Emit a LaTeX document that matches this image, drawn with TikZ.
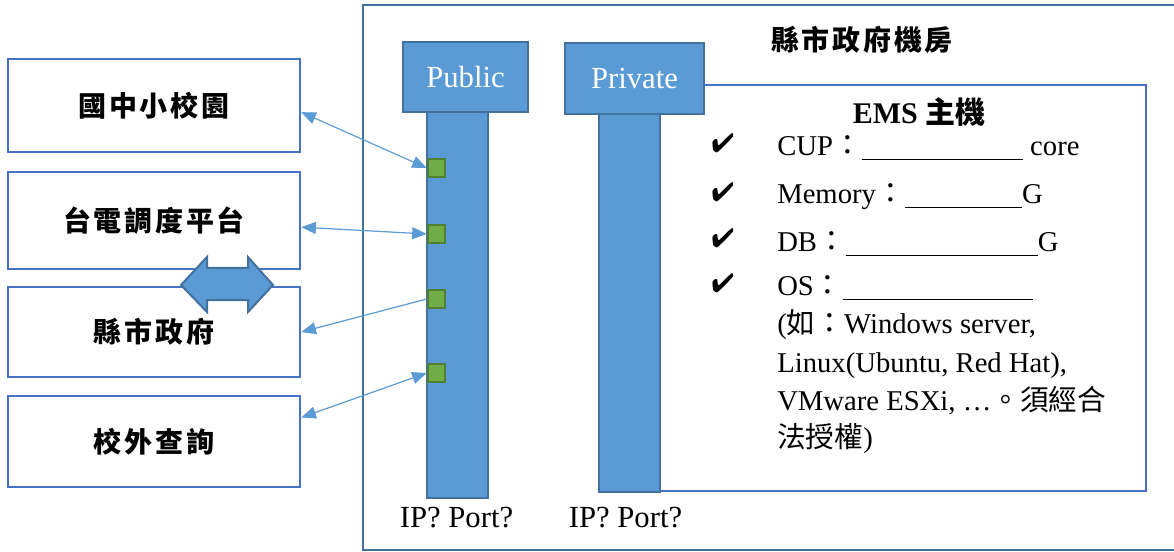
\documentclass[tikz,border=0pt]{standalone}
\usepackage{fontspec}
\usepackage{pifont}
\setmainfont{Liberation Serif}
\newfontfamily\cjk{Noto Sans CJK TC}
\usetikzlibrary{arrows.meta}
\definecolor{boxblue}{HTML}{4472C4}
\definecolor{fillblue}{HTML}{5B9BD5}
\definecolor{edgeblue}{HTML}{41719C}
\definecolor{portgreen}{HTML}{70AD47}
\definecolor{portedge}{HTML}{507E32}
\tikzset{
    site/.style={rectangle, draw=boxblue, line width=1.9pt, minimum width=219pt,
    	font=\cjk\bfseries\fontsize{21}{24}\selectfont\addfontfeature{LetterSpace=10}}
}
\tikzset{
    head/.style={rectangle, fill=fillblue, draw=edgeblue, line width=1.9pt,
    	text=white, font=\fontsize{23}{26}\selectfont},
    bar/.style={rectangle, fill=fillblue, draw=edgeblue, line width=1.9pt,
    	minimum width=45.75pt},
    port/.style={rectangle, fill=portgreen, draw=portedge, line width=1.5pt,
    	minimum size=13pt, inner sep=0pt}
}
\tikzset{
    link/.style={draw=fillblue, line width=0.9pt,
    	arrows={-Triangle[length=11pt, width=9pt]}},
    both/.style={arrows={Triangle[length=11pt, width=9pt]-Triangle[length=11pt, width=9pt]}},
    spec/.style={anchor=base west, inner sep=0pt, font=\fontsize{21.5}{24}\selectfont},
    tick/.style={inner sep=0pt, font=\fontsize{20}{22}\selectfont}
}

\begin{document}
\begin{tikzpicture}[x=0.75pt, y=-0.75pt]
	\clip (0,0) rectangle (1174,552);
	\fill[white] (0,0) rectangle (1174,552);

	% machine room
	\draw[edgeblue, line width=1.5pt] (363,5) rectangle (1190,550);
	\node (room) [font=\cjk\bfseries\fontsize{21}{24}\selectfont\addfontfeature{LetterSpace=10}]
		at (862,40) {縣市政府機房};

	% sites
	\node (1) [site, minimum height=69.75pt] at (154,105.5) {國中小校園};
	\node (2) [site, minimum height=72.75pt] at (154,220.5) {台電調度平台};
	\node (3) [site, minimum height=67.5pt] at (154,332) {縣市政府};
	\node (4) [site, minimum height=68.25pt] at (154,441.5) {校外查詢};

	\filldraw[fill=fillblue, draw=edgeblue, line width=1.5pt]
		(181,285) -- (207,257) -- (207,268) -- (248,268) -- (248,257)
		-- (273,285) -- (248,312) -- (248,300) -- (207,300) -- (207,312) -- cycle;

	% EMS host
	\draw[boxblue, line width=1.9pt] (640,85) rectangle (1146,491);
	\node (ems) at (919,112) {\fontsize{22.5}{24}\selectfont\bfseries EMS {\cjk 主機}};

	% networks
	\node (pub) [bar, minimum height=289.5pt] at (457.5,305) {};
	\node (pubh) [head, minimum width=93.75pt, minimum height=52.5pt] at (465.5,77) {Public};
	\node (pri) [bar, minimum height=283.5pt] at (629.5,303) {};
	\node (prih) [head, minimum width=104.25pt, minimum height=53.25pt] at (634.5,78.5) {Private};

	\node (p1) [port] at (436.5,168) {};
	\node (p2) [port] at (436.5,234) {};
	\node (p3) [port] at (436.5,299) {};
	\node (p4) [port] at (436.5,373) {};

	\node (pubip) [anchor=base, font=\fontsize{23}{26}\selectfont] at (456.5,527) {IP? Port?};
	\node (priip) [anchor=base, font=\fontsize{23}{26}\selectfont] at (625.5,527) {IP? Port?};

	\draw[link, both] (p1.west) -- ([yshift=-5pt]1.east);
	\draw[link, both] (p2.west) -- ([yshift=-5pt]2.east);
	\draw[link] (p3.west) -- (3.east);
	\draw[link, both] (p4.west) -- ([yshift=18pt]4.east);

	% spec list
	\node (t1) [tick] at (723,143) {\ding{52}};
	\node (t2) [tick] at (723,192) {\ding{52}};
	\node (t3) [tick] at (723,238) {\ding{52}};
	\node (t4) [tick] at (723,283) {\ding{52}};
	\node (s1) [spec] at (777,156) {CUP{\cjk ：}\rule[-3pt]{121pt}{0.6pt} core};
	\node (s2) [spec] at (777,204) {Memory{\cjk ：}\rule[-3pt]{88pt}{0.6pt}G};
	\node (s3) [spec] at (777,252) {DB{\cjk ：}\rule[-3pt]{144pt}{0.6pt}G};
	\node (s4) [spec] at (777,296) {OS{\cjk ：}\rule[-3pt]{143pt}{0.6pt}};
	\node (s5) [spec] at (777,333) {({\cjk 如：}Windows server,};
	\node (s6) [spec] at (777,372) {Linux(Ubuntu, Red Hat),};
	\node (s7) [spec] at (777,410) {VMware ESXi, …{\cjk 。須經合}};
	\node (s8) [spec] at (777,447) {{\cjk 法授權})};
\end{tikzpicture}
\end{document}
